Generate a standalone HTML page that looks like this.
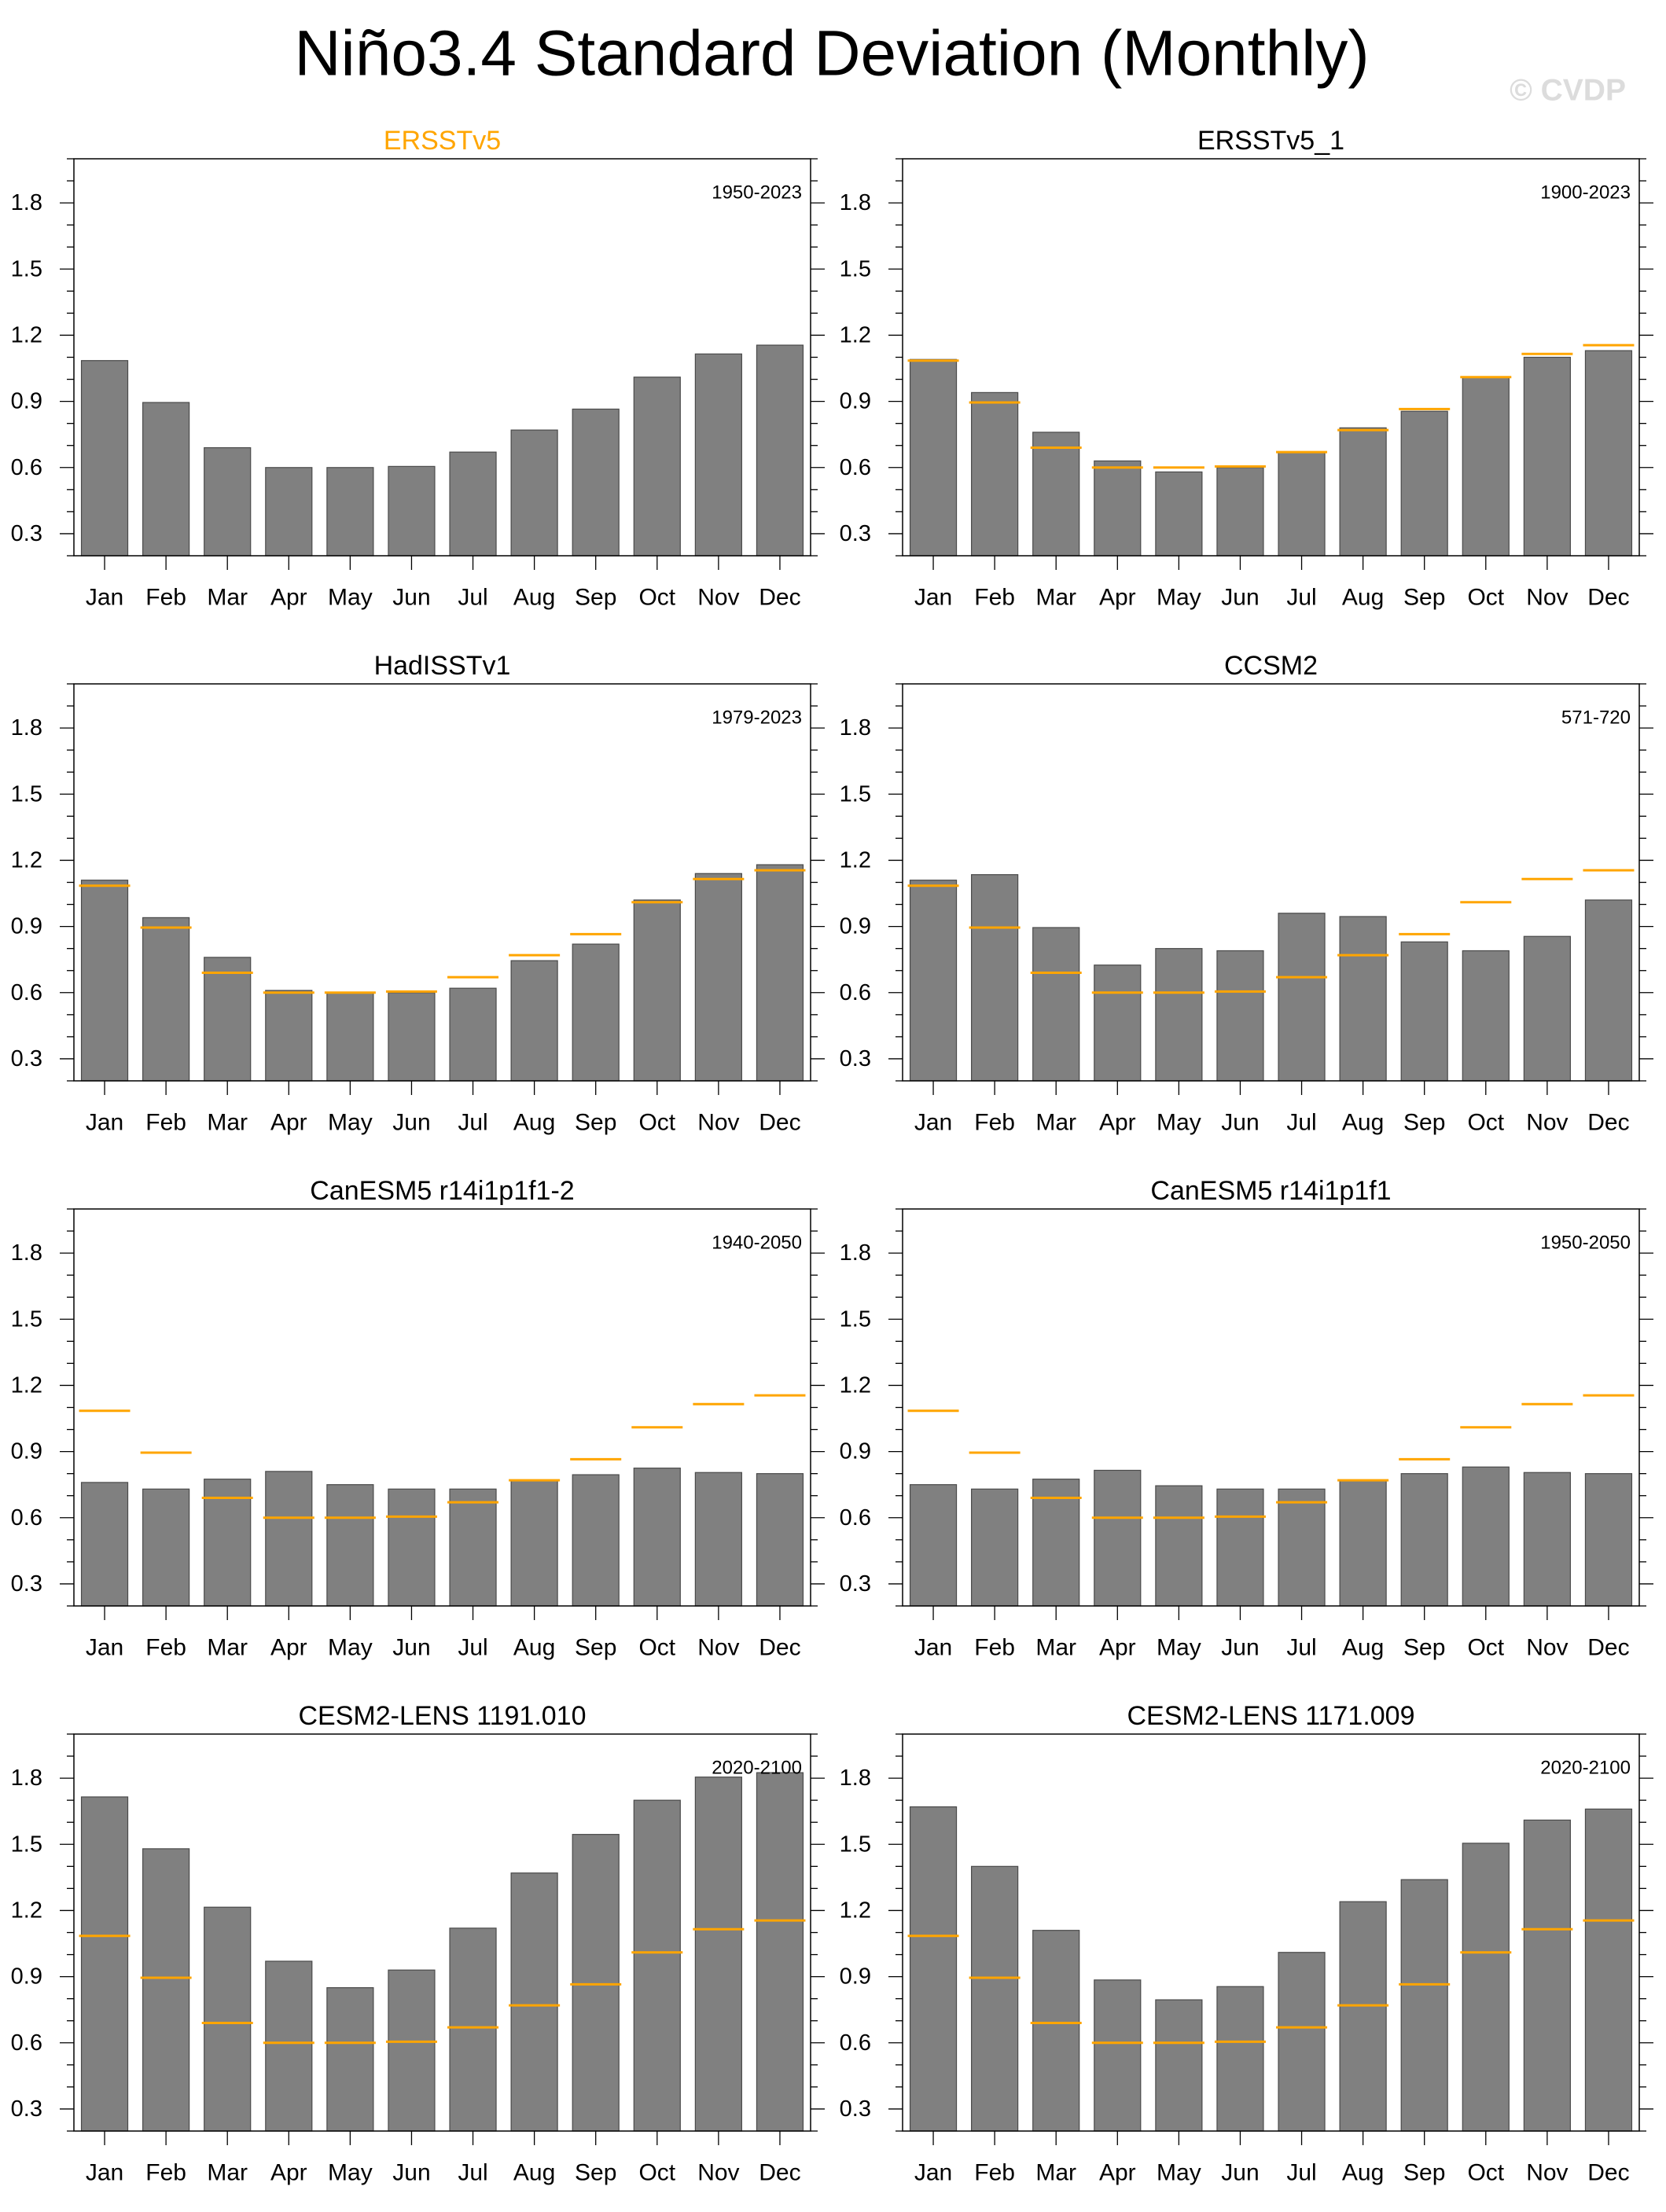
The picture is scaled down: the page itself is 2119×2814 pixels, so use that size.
<!DOCTYPE html>
<html><head><meta charset="utf-8">
<style>
html,body{margin:0;padding:0;background:#fff;}
body{width:2119px;height:2809px;overflow:hidden;position:relative;font-family:"Liberation Sans",sans-serif;}
svg text{font-family:"Liberation Sans",sans-serif;}
</style></head>
<body>
<svg id="chart" width="2119" height="2809" viewBox="0 0 2119 2809" xmlns="http://www.w3.org/2000/svg">
<text x="1058" y="68" font-size="82" text-anchor="middle" dominant-baseline="central" fill="#000">Niño3.4 Standard Deviation (Monthly)</text>
<text x="2068" y="115" font-size="39" font-weight="bold" text-anchor="end" dominant-baseline="central" fill="#dcdcdc">© CVDP</text>
</svg>
<script>
const months = ["Jan","Feb","Mar","Apr","May","Jun","Jul","Aug","Sep","Oct","Nov","Dec"];
const yTicks = [0.3,0.6,0.9,1.2,1.5,1.8];
const yTickLabels = ["0.3","0.6","0.9","1.2","1.5","1.8"];
const obsValues = [1.085,0.895,0.69,0.60,0.60,0.605,0.67,0.77,0.865,1.01,1.115,1.155];
const panelTitles = ["ERSSTv5","ERSSTv5_1","HadISSTv1","CCSM2","CanESM5 r14i1p1f1-2","CanESM5 r14i1p1f1","CESM2-LENS 1191.010","CESM2-LENS 1171.009"];
const panelYears = ["1950-2023","1900-2023","1979-2023","571-720","1940-2050","1950-2050","2020-2100","2020-2100"];
const valsERSSTv5 = [1.085,0.895,0.69,0.60,0.60,0.605,0.67,0.77,0.865,1.01,1.115,1.155];
const valsERSSTv5_1 = [1.09,0.94,0.76,0.63,0.58,0.60,0.67,0.78,0.855,1.01,1.10,1.13];
const valsHadISST = [1.11,0.94,0.76,0.61,0.60,0.60,0.62,0.745,0.82,1.02,1.14,1.18];
const valsCCSM2 = [1.11,1.135,0.895,0.725,0.80,0.79,0.96,0.945,0.83,0.79,0.855,1.02];
const valsCanESM5b = [0.76,0.73,0.775,0.81,0.75,0.73,0.73,0.77,0.795,0.825,0.805,0.80];
const valsCanESM5a = [0.75,0.73,0.775,0.815,0.745,0.73,0.73,0.77,0.80,0.83,0.805,0.80];
const valsCESM1191 = [1.715,1.48,1.215,0.97,0.85,0.93,1.12,1.37,1.545,1.70,1.805,1.825];
const valsCESM1171 = [1.67,1.40,1.11,0.885,0.795,0.855,1.01,1.24,1.34,1.505,1.61,1.66];
const allVals = [valsERSSTv5,valsERSSTv5_1,valsHadISST,valsCCSM2,valsCanESM5b,valsCanESM5a,valsCESM1191,valsCESM1171];

const NS = "http://www.w3.org/2000/svg";
const svg = document.getElementById("chart");
const Y0 = 0.2, Y1 = 2.0;
const PW = 937, PH = 505;
const lefts = [94, 1148];
const tops = [202, 870, 1538, 2206];

function mk(tag, attrs, parent){
  const e = document.createElementNS(NS, tag);
  for (const k in attrs) e.setAttribute(k, attrs[k]);
  parent.appendChild(e);
  return e;
}
function slug(s){return s.toLowerCase().replace(/[^a-z0-9]+/g,'-').replace(/^-|-$/g,'');}

allVals.forEach((vals, p) => {
  const L = lefts[p % 2], T = tops[Math.floor(p / 2)];
  const R = L + PW, B = T + PH;
  const sx = i => L + (i + 0.5) * PW / 12;
  const sy = v => B - (v - Y0) / (Y1 - Y0) * PH;
  const g = mk("g", {}, svg);
  
  

  // bars
  vals.forEach((v, i) => {
    const bw = 59;
    const r = mk("rect", {x: sx(i) - bw/2, y: sy(v), width: bw, height: B - sy(v), fill: "#808080", stroke: "#4a4a4a", "stroke-width": 1.2}, g);
    
    
  });
  // obs lines
  if (p > 0) {
    obsValues.forEach((v, i) => {
      const l = mk("line", {x1: sx(i) - 32.5, x2: sx(i) + 32.5, y1: sy(v), y2: sy(v), stroke: "#FFA500", "stroke-width": 3}, g);
      
      
    });
  }
  // frame
  const fr = mk("rect", {x: L, y: T, width: PW, height: PH, fill: "none", stroke: "#000", "stroke-width": 1.5}, g);
  
  
  // y ticks (minor & major) on both sides
  for (let k = 2; k <= 20; k++) {
    const v = k / 10;
    const major = yTicks.some(t => Math.abs(t - v) < 1e-6);
    const len = major ? 18 : 9;
    const y = sy(v);
    const tl = mk("line", {x1: L - len, x2: L, y1: y, y2: y, stroke: "#000", "stroke-width": 1.3}, g);
    
    
    const tr = mk("line", {x1: R, x2: R + len, y1: y, y2: y, stroke: "#000", "stroke-width": 1.3}, g);
    
    
  }
  yTicks.forEach((t, i) => {
    const tx = mk("text", {x: L - 40, y: sy(t), "font-size": 29, "text-anchor": "end", "dominant-baseline": "central", fill: "#000"}, g);
    tx.textContent = yTickLabels[i];
    
    
  });
  // x ticks & labels
  months.forEach((m, i) => {
    const l = mk("line", {x1: sx(i), x2: sx(i), y1: B, y2: B + 18, stroke: "#000", "stroke-width": 1.3}, g);
    
    
    const tx = mk("text", {x: sx(i), y: B + 53, "font-size": 30, "text-anchor": "middle", "dominant-baseline": "central", fill: "#000"}, g);
    tx.textContent = m;
    
    
  });
  // title
  const tt = mk("text", {x: L + PW/2, y: T - 23, "font-size": 34, "text-anchor": "middle", "dominant-baseline": "central", fill: p === 0 ? "#FFA500" : "#000"}, g);
  tt.textContent = panelTitles[p];
  
  
  // years
  const yr = mk("text", {x: R - 11, y: T + 43, "font-size": 24, "text-anchor": "end", "dominant-baseline": "central", fill: "#000"}, g);
  yr.textContent = panelYears[p];
  
  
});
</script>
</body></html>
